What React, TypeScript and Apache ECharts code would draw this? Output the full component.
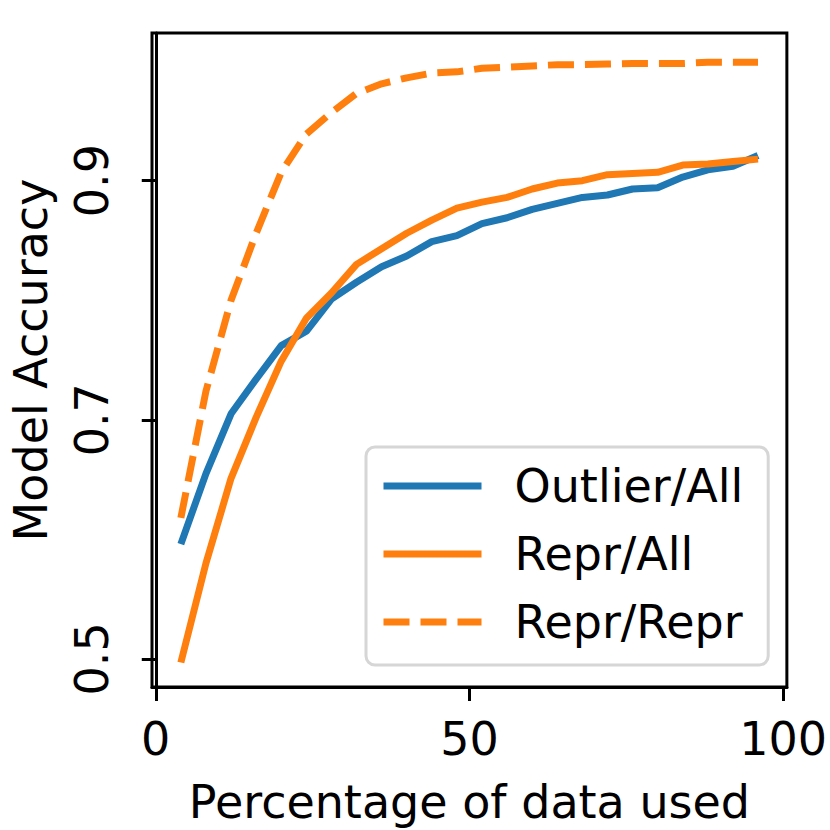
import React, { useEffect, useRef } from "react";
import * as echarts from "echarts";

const percentUsed = [4, 8, 12, 16, 20, 24, 28, 32, 36, 40, 44, 48, 52, 56, 60, 64, 68, 72, 76, 80, 84, 88, 92, 96];
const outlierAll = [0.596, 0.655, 0.705, 0.734, 0.762, 0.774, 0.801, 0.815, 0.828, 0.837, 0.849, 0.854, 0.864, 0.869, 0.876, 0.881, 0.886, 0.888, 0.893, 0.894, 0.903, 0.909, 0.912, 0.921];
const reprAll = [0.497, 0.58, 0.651, 0.702, 0.749, 0.785, 0.806, 0.83, 0.843, 0.856, 0.867, 0.877, 0.882, 0.886, 0.893, 0.898, 0.9, 0.905, 0.906, 0.907, 0.913, 0.914, 0.916, 0.918];
const reprRepr = [0.618, 0.724, 0.8, 0.856, 0.907, 0.939, 0.957, 0.973, 0.981, 0.986, 0.99, 0.991, 0.994, 0.995, 0.996, 0.997, 0.997, 0.9975, 0.998, 0.998, 0.998, 0.999, 0.999, 0.999];
const xTicks = [0, 50, 100];
const yTicks = [0.5, 0.7, 0.9];
const seriesNames = ["Outlier/All", "Repr/All", "Repr/Repr"];

const FONT = "DejaVu Sans";
const FS = 46;
const BLUE = "#1f77b4";
const ORANGE = "#ff7f0e";

export default function App() {
  const ref = useRef<HTMLDivElement>(null);
  useEffect(() => {
    if (!ref.current) return;
    const chart = echarts.init(ref.current, null, { renderer: "svg" });
    const pairs = (ys: number[]) => percentUsed.map((x, i) => [x, ys[i]]);
    chart.setOption({
      animation: false,
      backgroundColor: "#fff",
      grid: {
        left: 151,
        right: 42,
        top: 33,
        bottom: 142,
        show: true,
        borderColor: "#000",
        borderWidth: 3,
        backgroundColor: "transparent",
      },
      xAxis: {
        type: "value",
        min: -0.6,
        max: 100.6,
        name: "Percentage of data used",
        nameLocation: "middle",
        nameGap: 92,
        nameTextStyle: { fontFamily: FONT, fontSize: FS, color: "#000", lineHeight: FS },
        splitLine: { show: false },
        axisLine: { show: true, lineStyle: { color: "#000", width: 3 } },
        axisTick: { show: true, length: 14, lineStyle: { color: "#000", width: 3 }, customValues: xTicks },
        axisLabel: {
          fontFamily: FONT,
          fontSize: FS,
          color: "#000",
          lineHeight: FS,
          margin: 29,
          customValues: xTicks,
          formatter: (v: number) => String(v),
        },
      },
      yAxis: {
        type: "value",
        min: 0.4765,
        max: 1.0235,
        name: "Model Accuracy",
        nameLocation: "middle",
        nameGap: 98,
        nameRotate: 90,
        nameTextStyle: { fontFamily: FONT, fontSize: FS, color: "#000", lineHeight: FS },
        splitLine: { show: false },
        axisLine: { show: true, lineStyle: { color: "#000", width: 3 } },
        axisTick: { show: true, length: 14, lineStyle: { color: "#000", width: 3 }, customValues: yTicks },
        axisLabel: {
          fontFamily: FONT,
          fontSize: FS,
          color: "#000",
          lineHeight: FS,
          margin: 37,
          rotate: 90,
          customValues: yTicks,
          formatter: (v: number) => v.toFixed(1),
        },
      },
      legend: {
        orient: "vertical",
        left: 366,
        top: 447,
        data: seriesNames,
        padding: [14, 25, 18, 14],
        itemWidth: 98,
        itemHeight: 14,
        itemGap: 18,
        backgroundColor: "#fff",
        borderColor: "#d6d6d6",
        borderWidth: 3,
        borderRadius: 9,
        lineStyle: { width: 7 },
        itemStyle: { opacity: 0, borderWidth: 0 },
        textStyle: {
          fontFamily: FONT,
          fontSize: FS,
          color: "#000",
          lineHeight: 50,
          padding: [0, 0, 0, 28],
        },
      },
      series: [
        {
          name: seriesNames[0],
          type: "line",
          data: pairs(outlierAll),
          symbol: "none",
          lineStyle: { color: BLUE, width: 7 },
          itemStyle: { color: BLUE },
        },
        {
          name: seriesNames[1],
          type: "line",
          data: pairs(reprAll),
          symbol: "none",
          lineStyle: { color: ORANGE, width: 7 },
          itemStyle: { color: ORANGE },
        },
        {
          name: seriesNames[2],
          type: "line",
          data: pairs(reprRepr),
          symbol: "none",
          lineStyle: { color: ORANGE, width: 7, type: [26, 11] },
          itemStyle: { color: ORANGE },
        },
      ],
    });
    return () => chart.dispose();
  }, []);
  return (
    <div
      ref={ref}
      style={{ position: "absolute", left: 0, top: 0, width: 830, height: 830 }}
    />
  );
}
